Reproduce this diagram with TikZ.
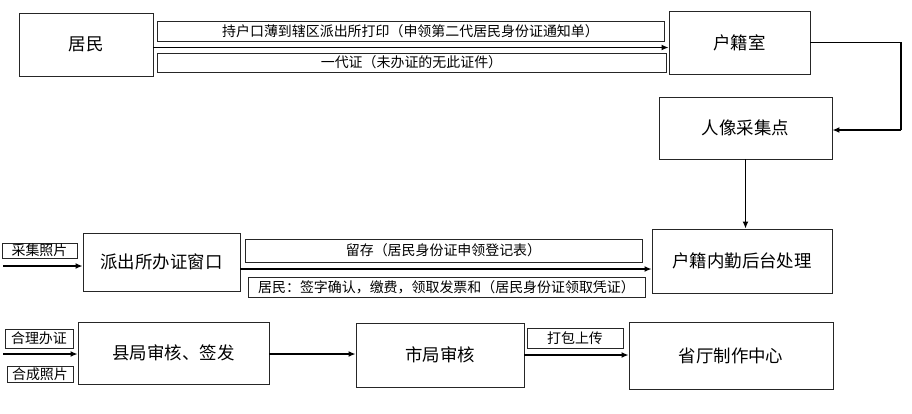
\documentclass[tikz,border=0pt]{standalone}
\usepackage{fontspec}
\setmainfont{Noto Sans CJK SC}
\usetikzlibrary{arrows.meta,calc}
\begin{document}
\begin{tikzpicture}[x=1bp,y=-1bp,
  mainbox/.style={draw=black!85,line width=0.9bp,rectangle,inner sep=0,font=\fontsize{17.5}{20}\selectfont},
  lblbox/.style={draw=black!85,line width=0.9bp,rectangle,inner sep=0,font=\fontsize{14}{16}\selectfont},
  arr/.style={line width=1.6bp,-{Latex[length=7bp,width=6bp]}},
  conn/.style={line width=1.4bp}]
\useasboundingbox[fill=white] (0,0) rectangle (912,413);
% main boxes
\node[mainbox,minimum width=134bp,minimum height=63bp] (jumin) at (86,44.5) {居民};
\node[mainbox,minimum width=141bp,minimum height=63bp] (hujishi) at (739.5,42.5) {户籍室};
\node[mainbox,minimum width=173bp,minimum height=62bp] (renxiang) at (745.5,128) {人像采集点};
\node[mainbox,minimum width=180bp,minimum height=64bp] (houtai) at (742,261) {户籍内勤后台处理};
\node[mainbox,minimum width=157bp,minimum height=58bp] (paichu) at (161.5,262) {派出所办证窗口};
\node[mainbox,minimum width=191bp,minimum height=62bp] (xianju) at (173.5,353) {县局审核、签发};
\node[mainbox,minimum width=168bp,minimum height=64bp] (shiju) at (440,355) {市局审核};
\node[mainbox,minimum width=204bp,minimum height=67bp] (shengting) at (731,355.5) {省厅制作中心};
% label boxes
\node[lblbox,minimum width=507bp,minimum height=20bp] (l1) at (410.5,31) {持户口薄到辖区派出所打印（申领第二代居民身份证通知单）};
\node[lblbox,minimum width=509bp,minimum height=19bp] (l2) at (411.5,62.5) {一代证（未办证的无此证件）};
\node[lblbox,minimum width=75bp,minimum height=15bp] (l3) at (39.5,250.5) {采集照片};
\node[lblbox,minimum width=397bp,minimum height=23bp] (l4) at (443.5,250.5) {留存（居民身份证申领登记表）};
\node[lblbox,minimum width=397bp,minimum height=20bp] (l5) at (446.5,287) {居民：签字确认，缴费，领取发票和（居民身份证领取凭证）};
\node[lblbox,minimum width=68bp,minimum height=19bp] (l6) at (39,338.5) {合理办证};
\node[lblbox,minimum width=66bp,minimum height=16bp] (l7) at (40,374) {合成照片};
\node[lblbox,minimum width=96bp,minimum height=20bp] (l8) at (575,338) {打包上传};
% connectors
\coordinate (s1) at (153,47.5);
\draw[arr] (s1) -- (s1 -| hujishi.west);
\coordinate (bend) at (901,130);
\draw[conn] (hujishi.east) -- (hujishi.east -| bend) -- (bend);
\draw[arr] (bend) -- (bend -| renxiang.east);
\draw[arr] (renxiang.south) -- (renxiang.south |- houtai.north);
\coordinate (s3) at (3,266);
\draw[arr] (s3) -- (s3 -| paichu.west);
\coordinate (s4) at (240,269);
\draw[arr] (s4) -- (s4 -| houtai.west);
\coordinate (s6) at (3,354);
\draw[arr] (s6) -- (s6 -| xianju.west);
\coordinate (s7) at (269,354);
\draw[arr] (s7) -- (s7 -| shiju.west);
\coordinate (s8) at (524,355);
\draw[arr] (s8) -- (s8 -| shengting.west);
\end{tikzpicture}
\end{document}
